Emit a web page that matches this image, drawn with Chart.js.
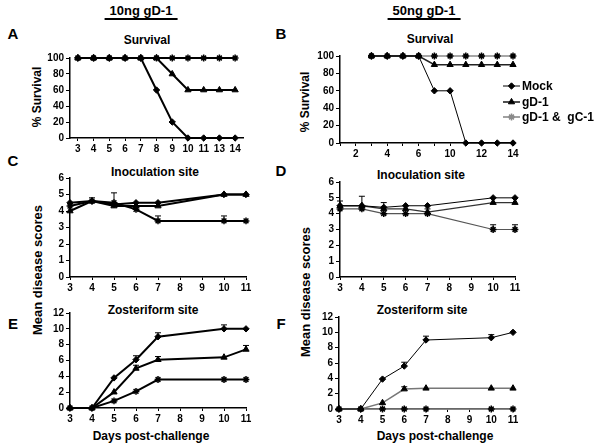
<!DOCTYPE html>
<html>
<head>
<meta charset="utf-8">
<script src="https://cdn.jsdelivr.net/npm/chart.js@4/dist/chart.umd.min.js"></script>
<style>
  body { margin: 0; background: #fff; }
  #wrap { position: relative; width: 600px; height: 447px; overflow: hidden; font-family: 'Liberation Sans', Arial, sans-serif; font-weight: bold; color: #000; }
  canvas { position: absolute; display: block; }
  .t { position: absolute; white-space: nowrap; transform: translate(-50%, -50%); }
  .rot { transform: translate(-50%, -50%) rotate(-90deg); }
</style>
</head>
<body>
<div id="wrap">
  <div class="t" style="left:141px;top:12px;font-size:13px;border-bottom:2px solid #000;padding:0 5px;line-height:14px;">10ng gD-1</div>
  <div class="t" style="left:424px;top:12px;font-size:13px;border-bottom:2px solid #000;padding:0 5px;line-height:14px;">50ng gD-1</div>

  <div class="t" style="left:13px;top:33px;font-size:15px;">A</div>
  <div class="t" style="left:281px;top:33px;font-size:15px;">B</div>
  <div class="t" style="left:13px;top:160px;font-size:15px;">C</div>
  <div class="t" style="left:281px;top:170px;font-size:15px;">D</div>
  <div class="t" style="left:13px;top:323px;font-size:15px;">E</div>
  <div class="t" style="left:281px;top:323px;font-size:15px;">F</div>

  <div class="t" style="left:147px;top:40px;font-size:12px;">Survival</div>
  <div class="t" style="left:430px;top:39px;font-size:12px;">Survival</div>
  <div class="t" style="left:155px;top:172px;font-size:12px;">Inoculation site</div>
  <div class="t" style="left:421px;top:175px;font-size:12px;">Inoculation site</div>
  <div class="t" style="left:153px;top:310px;font-size:12px;">Zosteriform site</div>
  <div class="t" style="left:422px;top:310px;font-size:12px;">Zosteriform site</div>
  <div class="t" style="left:151px;top:436px;font-size:12px;">Days post-challenge</div>
  <div class="t" style="left:435px;top:436px;font-size:12px;">Days post-challenge</div>

  <div class="t rot" style="left:37px;top:97px;font-size:12px;">% Survival</div>
  <div class="t rot" style="left:305px;top:102px;font-size:12px;">% Survival</div>
  <div class="t rot" style="left:37px;top:270px;font-size:13px;">Mean disease scores</div>
  <div class="t rot" style="left:305px;top:292px;font-size:13px;">Mean disease scores</div>

  <canvas id="chartA" width="221" height="108" style="left:30px;top:50px;"></canvas>
  <canvas id="chartB" width="300" height="115" style="left:300px;top:48px;"></canvas>
  <canvas id="chartC" width="224" height="127" style="left:30px;top:170px;"></canvas>
  <canvas id="chartD" width="223" height="123" style="left:300px;top:174px;"></canvas>
  <canvas id="chartE" width="224" height="123" style="left:30px;top:305px;"></canvas>
  <canvas id="chartF" width="222" height="120" style="left:299px;top:309px;"></canvas>
</div>

<script>
  const seriesNames = ['Mock', 'gD-1', 'gD-1 &  gC-1'];

  // survival, 10ng (A)
  const survivalDaysA = ['3', '4', '5', '6', '7', '8', '9', '10', '11', '13', '14'];
  const mockA = [100, 100, 100, 100, 100, 60, 20, 0, 0, 0, 0];
  const gd1A = [100, 100, 100, 100, 100, 100, 80, 60, 60, 60, 60];
  const gd1gc1A = [100, 100, 100, 100, 100, 100, 100, 100, 100, 100, 100];

  // survival, 50ng (B) - axis labels as printed on the original
  const survivalDaysB = ['', '2', '', '4', '', '6', '', '10', '', '12', '', '14'];
  const mockB = [null, null, 100, 100, 100, 100, 60, 60, 0, 0, 0, 0];
  const gd1B = [null, null, 100, 100, 100, 100, 90, 90, 90, 90, 90, 90];
  const gd1gc1B = [null, null, 100, 100, 100, 100, 100, 100, 100, 100, 100, 100];

  // disease score days (C-F), no readings on day 8 and 9
  const scoreDays = ['3', '4', '5', '6', '7', '8', '9', '10', '11'];

  // inoculation site, 10ng (C)
  const mockC = [4.5, 4.6, 4.4, 4.5, 4.5, null, null, 5.0, 5.0];
  const gd1C = [4.0, 4.6, 4.3, 4.3, 4.3, null, null, 5.0, 5.0];
  const gd1gc1C = [4.3, 4.6, 4.5, 4.1, 3.4, null, null, 3.4, 3.4];
  const mockErrC = [0, 0.2, 0, 0, 0, null, null, 0, 0];
  const gd1ErrC = [0, 0, 0, 0, 0, null, null, 0, 0];
  const gd1gc1ErrC = [0, 0, 0.6, 0, 0.3, null, null, 0.3, 0];

  // inoculation site, 50ng (D)
  const mockD = [4.5, 4.5, 4.4, 4.5, 4.5, null, null, 5.0, 5.0];
  const gd1D = [4.5, 4.5, 4.3, 4.3, 4.1, null, null, 4.7, 4.7];
  const gd1gc1D = [4.3, 4.3, 4.0, 4.0, 4.0, null, null, 3.0, 3.0];
  const mockErrD = [0.3, 0.6, 0.3, 0, 0, null, null, 0, 0];
  const gd1ErrD = [0, 0, 0, 0, 0.2, null, null, 0, 0];
  const gd1gc1ErrD = [0, 0, 0, 0, 0, null, null, 0.3, 0.3];

  // zosteriform site, 10ng (E)
  const mockE = [0, 0, 3.8, 6.1, 9.0, null, null, 10.0, 10.0];
  const gd1E = [0, 0, 2.0, 5.0, 6.1, null, null, 6.4, 7.4];
  const gd1gc1E = [0, 0, 0.9, 2.1, 3.6, null, null, 3.6, 3.6];
  const mockErrE = [0, 0, 0, 0.5, 0.5, null, null, 0.5, 0];
  const gd1ErrE = [0, 0, 0, 0.4, 0.4, null, null, 0, 0.5];
  const gd1gc1ErrE = [0, 0, 0, 0, 0, null, null, 0, 0];

  // zosteriform site, 50ng (F)
  const mockF = [0, 0, 3.9, 5.6, 9.0, null, null, 9.3, 10.0];
  const gd1F = [0, 0, 0.8, 2.6, 2.7, null, null, 2.7, 2.7];
  const gd1gc1F = [0, 0, 0, 0, 0, null, null, 0, 0];
  const mockErrF = [0, 0, 0, 0.5, 0.5, null, null, 0.4, 0];
  const gd1ErrF = [0, 0, 0, 0.3, 0, null, null, 0, 0];
  const gd1gc1ErrF = [0, 0, 0, 0, 0, null, null, 0, 0];

  const tickFont = { family: "'Liberation Sans', Arial, sans-serif", size: 10, weight: 'bold' };

  // upward-only error bars with a small cap
  const errorBars = {
    id: 'errorBars',
    afterDatasetsDraw(chart) {
      const ctx = chart.ctx;
      const yScale = chart.scales.y;
      chart.data.datasets.forEach((ds, i) => {
        if (!ds.errors) return;
        chart.getDatasetMeta(i).data.forEach((pt, j) => {
          const err = ds.errors[j];
          if (!err || ds.data[j] == null) return;
          const top = yScale.getPixelForValue(ds.data[j] + err);
          ctx.save();
          ctx.strokeStyle = '#000';
          ctx.lineWidth = 1;
          ctx.beginPath();
          ctx.moveTo(pt.x, pt.y);
          ctx.lineTo(pt.x, top);
          ctx.moveTo(pt.x - 3, top);
          ctx.lineTo(pt.x + 3, top);
          ctx.stroke();
          ctx.restore();
        });
      });
    }
  };

  // legend drawn inside panel B, overlapping the plot like the original
  const legendB = {
    id: 'legendB',
    afterDraw(chart) {
      const ctx = chart.ctx;
      const rows = [38, 54, 69];
      chart.data.datasets.forEach((ds, i) => {
        const y = rows[i];
        ctx.save();
        ctx.strokeStyle = ds.borderColor;
        ctx.lineWidth = ds.borderWidth;
        ctx.beginPath();
        ctx.moveTo(203, y);
        ctx.lineTo(220, y);
        ctx.stroke();
        ctx.fillStyle = '#000';
        ctx.strokeStyle = ds.pointStyle === 'star' ? ds.borderColor : '#000';
        ctx.lineWidth = ds.pointBorderWidth;
        Chart.helpers.drawPoint(ctx, { pointStyle: ds.pointStyle, radius: ds.pointRadius, rotation: 0, borderWidth: ds.pointBorderWidth }, 211.5, y);
        ctx.fillStyle = '#000';
        ctx.font = "bold 12px 'Liberation Sans', Arial, sans-serif";
        ctx.textBaseline = 'middle';
        ctx.fillText(ds.label, 222, y + 1);
        ctx.restore();
      });
    }
  };

  function series(label, data, errors, style, lineColor, width) {
    return {
      label: label,
      data: data,
      errors: errors,
      borderColor: lineColor,
      borderWidth: width,
      backgroundColor: '#000',
      pointBackgroundColor: '#000',
      pointBorderColor: '#000',
      pointBorderWidth: style === 'star' ? 1.5 : 1,
      pointStyle: style,
      pointRadius: style === 'rectRot' ? 3.2 : (style === 'star' ? 3.4 : 3.6),
      spanGaps: true,
      tension: 0,
      clip: false
    };
  }

  function makeChart(id, labels, datasets, yMax, yStep, offset, padRight, plugins) {
    new Chart(document.getElementById(id), {
      type: 'line',
      data: { labels: labels, datasets: datasets },
      plugins: plugins,
      options: {
        responsive: false,
        animation: false,
        devicePixelRatio: 1,
        layout: { padding: { top: 8, right: padRight, left: 0, bottom: 0 } },
        plugins: { legend: { display: false }, tooltip: { enabled: false } },
        scales: {
          x: {
            offset: offset,
            afterFit: (s) => { s.height = 20; },
            border: { display: true, color: '#000', width: 1.5 },
            grid: { drawOnChartArea: false, drawTicks: true, tickLength: 3, color: '#000' },
            ticks: { color: '#000', font: tickFont, autoSkip: false, maxRotation: 0, padding: 2 }
          },
          y: {
            min: 0,
            max: yMax,
            afterFit: (s) => { s.width = 40; },
            border: { display: true, color: '#000', width: 1.5 },
            grid: { drawOnChartArea: false, drawTicks: true, tickLength: 4, color: '#000' },
            ticks: { stepSize: yStep, color: '#000', font: tickFont, padding: 2 }
          }
        }
      }
    });
  }

  makeChart('chartA', survivalDaysA, [
    series(seriesNames[0], mockA, null, 'rectRot', '#000', 2),
    series(seriesNames[1], gd1A, null, 'triangle', '#000', 2),
    series(seriesNames[2], gd1gc1A, null, 'star', '#000', 2)
  ], 100, 20, true, 8, []);

  makeChart('chartB', survivalDaysB, [
    series(seriesNames[0], mockB, null, 'rectRot', '#000', 1),
    series(seriesNames[1], gd1B, null, 'triangle', '#222', 1.6),
    series(seriesNames[2], gd1gc1B, null, 'star', '#8a8a8a', 1.6)
  ], 100, 20, false, 87, [legendB]);

  makeChart('chartC', scoreDays, [
    series(seriesNames[0], mockC, mockErrC, 'rectRot', '#000', 2),
    series(seriesNames[1], gd1C, gd1ErrC, 'triangle', '#000', 2),
    series(seriesNames[2], gd1gc1C, gd1gc1ErrC, 'star', '#000', 2)
  ], 6, 1, false, 8, [errorBars]);

  makeChart('chartD', scoreDays, [
    series(seriesNames[0], mockD, mockErrD, 'rectRot', '#000', 1),
    series(seriesNames[1], gd1D, gd1ErrD, 'triangle', '#333', 1.4),
    series(seriesNames[2], gd1gc1D, gd1gc1ErrD, 'star', '#555', 1.2)
  ], 6, 1, false, 8, [errorBars]);

  makeChart('chartE', scoreDays, [
    series(seriesNames[0], mockE, mockErrE, 'rectRot', '#000', 2),
    series(seriesNames[1], gd1E, gd1ErrE, 'triangle', '#000', 2),
    series(seriesNames[2], gd1gc1E, gd1gc1ErrE, 'star', '#000', 2)
  ], 12, 2, false, 8, [errorBars]);

  makeChart('chartF', scoreDays, [
    series(seriesNames[0], mockF, mockErrF, 'rectRot', '#000', 1),
    series(seriesNames[1], gd1F, gd1ErrF, 'triangle', '#777', 1.5),
    series(seriesNames[2], gd1gc1F, gd1gc1ErrF, 'star', '#8a8a8a', 1.5)
  ], 12, 2, false, 8, [errorBars]);
</script>
</body>
</html>
